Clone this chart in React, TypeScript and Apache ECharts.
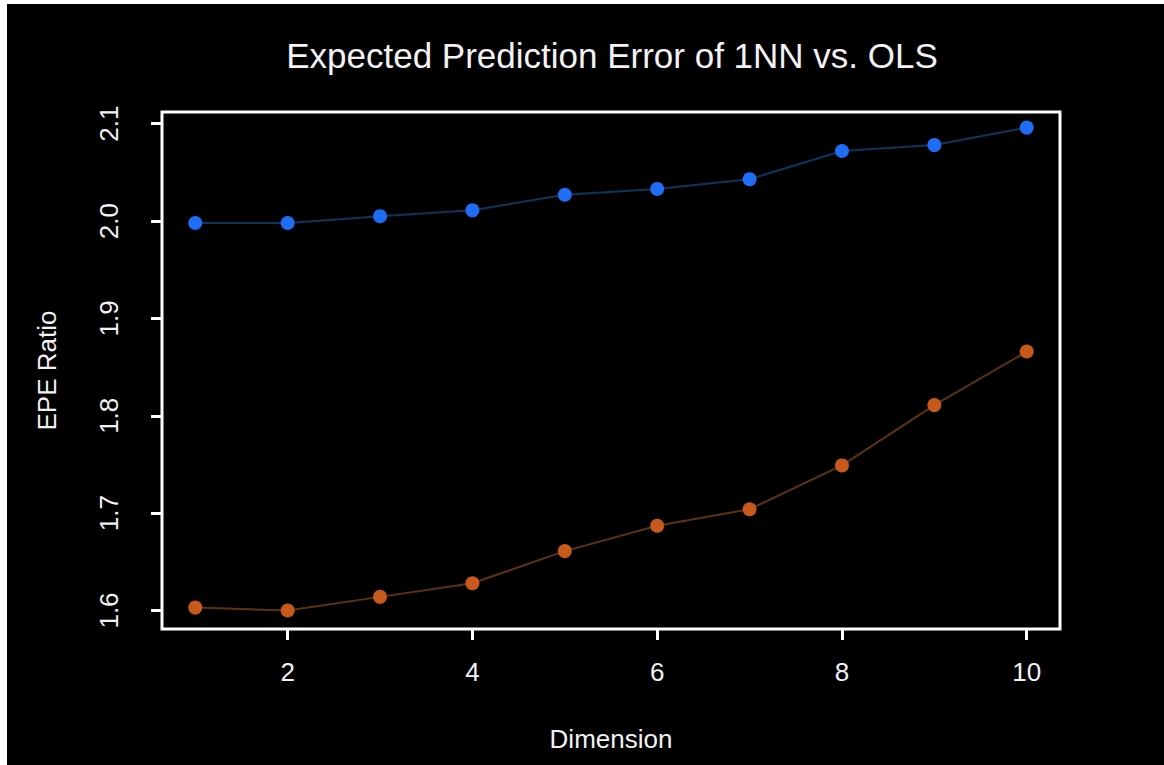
import React, { useEffect, useRef } from "react";
import * as echarts from "echarts";

const dimensions = [1, 2, 3, 4, 5, 6, 7, 8, 9, 10];
const blueValues = [1.998, 1.998, 2.005, 2.011, 2.027, 2.033, 2.043, 2.072, 2.078, 2.096];
const orangeValues = [1.603, 1.6, 1.614, 1.628, 1.661, 1.687, 1.704, 1.749, 1.811, 1.866];
const xTicks = [2, 4, 6, 8, 10];
const yTicks = [1.6, 1.7, 1.8, 1.9, 2.0, 2.1];
const titleText = "Expected Prediction Error of 1NN vs. OLS";
const xName = "Dimension";
const yName = "EPE Ratio";

export default function App() {
  const ref = useRef<HTMLDivElement>(null);
  useEffect(() => {
    if (!ref.current) return;
    const chart = echarts.init(ref.current, undefined, { renderer: "svg" });
    const font = "Liberation Sans, Arial, sans-serif";
    chart.setOption({
      animation: false,
      backgroundColor: "#000000",
      title: {
        text: titleText,
        left: 607,
        textAlign: "center",
        top: 33,
        textStyle: { color: "#f2f2f2", fontSize: 35, fontWeight: "normal", fontFamily: font },
      },
      graphic: [
        { type: "rect", shape: { x: 0, y: 0, width: 7, height: 765 }, style: { fill: "#ffffff" } },
        { type: "rect", shape: { x: 0, y: 0, width: 1164, height: 4 }, style: { fill: "#ffffff" } },
      ],
      grid: {
        left: 162,
        right: 104,
        top: 112,
        bottom: 136,
        show: true,
        borderColor: "#ffffff",
        borderWidth: 3,
        backgroundColor: "transparent",
      },
      xAxis: {
        type: "value",
        min: 0.64,
        max: 10.36,
        name: xName,
        nameLocation: "middle",
        nameGap: 97,
        nameTextStyle: { color: "#f2f2f2", fontSize: 26, fontFamily: font },
        axisLine: { show: false },
        splitLine: { show: false },
        axisTick: { show: true, length: 11, customValues: xTicks, lineStyle: { color: "#ffffff", width: 3 } },
        axisLabel: {
          customValues: xTicks,
          color: "#f2f2f2",
          fontSize: 26,
          fontFamily: font,
          margin: 30,
        },
      },
      yAxis: {
        type: "value",
        min: 1.581,
        max: 2.112,
        name: yName,
        nameLocation: "middle",
        nameRotate: 90,
        nameGap: 102,
        nameTextStyle: { color: "#f2f2f2", fontSize: 26, fontFamily: font },
        axisLine: { show: false },
        splitLine: { show: false },
        axisTick: { show: true, length: 11, customValues: yTicks, lineStyle: { color: "#ffffff", width: 3 } },
        axisLabel: {
          customValues: yTicks,
          rotate: 90,
          color: "#f2f2f2",
          fontSize: 26,
          fontFamily: font,
          margin: 40,
          formatter: (v: number) => v.toFixed(1),
        },
      },
      series: [
        {
          type: "line",
          data: dimensions.map((d, i) => [d, blueValues[i]]),
          symbol: "circle",
          symbolSize: 14,
          lineStyle: { color: "#0d355f", width: 2 },
          itemStyle: { color: "#1f6cf5" },
        },
        {
          type: "line",
          data: dimensions.map((d, i) => [d, orangeValues[i]]),
          symbol: "circle",
          symbolSize: 14,
          lineStyle: { color: "#5e3210", width: 2 },
          itemStyle: { color: "#c8591c" },
        },
      ],
    });
    return () => chart.dispose();
  }, []);
  return (
    <div
      ref={ref}
      style={{ position: "absolute", left: 0, top: 0, width: 1164, height: 765 }}
    />
  );
}
